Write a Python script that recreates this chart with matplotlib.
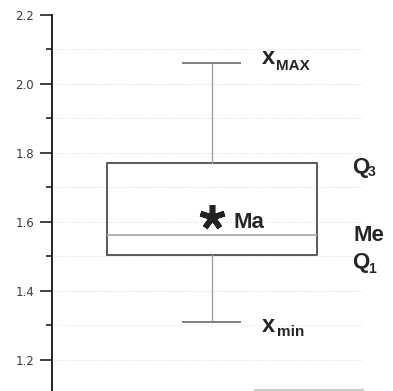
import matplotlib
matplotlib.use("Agg")
import matplotlib.pyplot as plt
from matplotlib.lines import Line2D

plt.rcParams['font.family'] = ['Liberation Sans', 'DejaVu Sans']

# box plot statistics
x_min = 1.31
q1 = 1.504
median = 1.562
mean = 1.614
q3 = 1.771
x_max = 2.061

y_ticks = [1.2, 1.4, 1.6, 1.8, 2.0, 2.2]
y_minor = [1.3, 1.5, 1.7, 1.9, 2.1]
grid_levels = [1.2, 1.3, 1.4, 1.5, 1.6, 1.7, 1.8, 1.9, 2.0, 2.1]

fig = plt.figure(figsize=(3.93, 3.91), dpi=100)
ax = fig.add_axes([52 / 393, 0, 310 / 393, 1 - 15 / 391])

for g in grid_levels:
    ax.axhline(g, color='#e4e4e4', lw=0.8, ls=(0, (1, 1.5)), zorder=0)

stats = [{'whislo': x_min, 'q1': q1, 'med': median, 'q3': q3,
          'whishi': x_max, 'mean': mean}]
ax.bxp(stats, positions=[0.516], widths=0.677, showmeans=False,
       showfliers=False, patch_artist=False,
       boxprops=dict(color='#5a5a5a', lw=1.4),
       medianprops=dict(color='#b0b0b0', lw=1.4),
       whiskerprops=dict(color='#a0a0a0', lw=1.0),
       capprops=dict(color='#808080', lw=1.4),
       capwidths=0.184)

# mean marker
ax.plot([0.516], [mean], marker=(5, 2, 0), ms=18, mew=4, color='#222222')

ax.set_xlim(0, 1)
ax.set_ylim(1.11, 2.2)
ax.set_xticks([])
ax.set_yticks(y_ticks)
ax.set_yticks(y_minor, minor=True)
ax.set_yticklabels(['%.1f' % v for v in y_ticks], family='DejaVu Sans')
ax.tick_params(axis='y', which='major', length=9, width=1.2, color='#222222',
               labelsize=8.5, labelcolor='#3a3a3a', pad=4)
ax.tick_params(axis='y', which='minor', length=4, width=1.2, color='#222222')
for s in ['top', 'right', 'bottom']:
    ax.spines[s].set_visible(False)
ax.spines['left'].set_linewidth(1.4)
ax.spines['left'].set_color('#222222')

tr = ax.get_yaxis_transform()
lab = dict(transform=tr, fontweight='bold', color='#262626', va='baseline',
           ha='left', clip_on=False)

ax.text(0.677, 2.058, 'x', fontsize=17, **lab)
ax.text(0.722, 2.041, 'MAX', fontsize=11, **lab)
ax.text(0.584, 1.583, 'Ma', fontsize=16, **lab)
ax.text(0.968, 1.742, 'Q', fontsize=16, **lab)
ax.text(1.019, 1.733, '3', fontsize=10, **lab)
ax.text(0.971, 1.545, 'Me', fontsize=16, **lab)
ax.text(0.968, 1.467, 'Q', fontsize=16, **lab)
ax.text(1.019, 1.452, '1', fontsize=10, **lab)
ax.text(0.677, 1.281, 'x', fontsize=17, **lab)
ax.text(0.725, 1.270, 'min', fontsize=11, **lab)

fig.add_artist(Line2D([255 / 393, 363 / 393], [0.003, 0.003],
                      color='#cccccc', lw=1.5))

fig.savefig('out.png', dpi=100, facecolor='white')
